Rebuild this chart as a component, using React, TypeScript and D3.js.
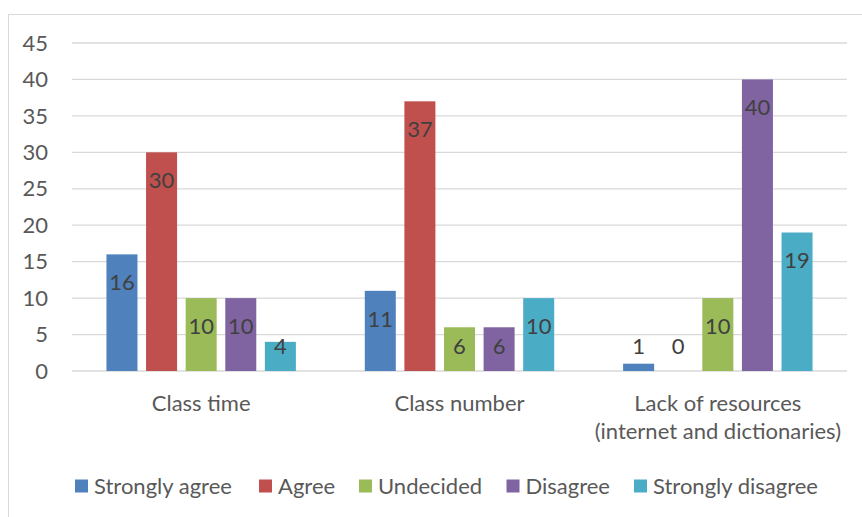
import React from "react";
import * as d3 from "d3";

const categories: string[][] = [
  ["Class time"],
  ["Class number"],
  ["Lack of resources", "(internet and dictionaries)"],
];
const seriesNames = ["Strongly agree", "Agree", "Undecided", "Disagree", "Strongly disagree"];
const seriesColors = ["#4F81BD", "#C0504D", "#9BBB59", "#8064A2", "#4BACC6"];
const stronglyAgree = [16, 11, 1];
const agree = [30, 37, 0];
const undecided = [10, 6, 10];
const disagree = [10, 6, 40];
const stronglyDisagree = [4, 10, 19];
const yTicks = [0, 5, 10, 15, 20, 25, 30, 35, 40, 45];

const seriesValues = [stronglyAgree, agree, undecided, disagree, stronglyDisagree];

const W = 862;
const H = 517;
const FONT = "Lato, 'Noto Sans', sans-serif";
const FS = 22;

export default function App() {
  const plotLeft = 72;
  const plotRight = 847;
  const y = d3.scaleLinear().domain([0, 45]).range([371, 43]);
  const catIdx = categories.map((_, i) => String(i));
  const x0 = d3.scaleBand<string>().domain(catIdx).range([plotLeft, plotRight]).paddingInner(0).paddingOuter(0);
  const x1 = d3
    .scaleBand<string>()
    .domain(seriesNames)
    .range([0, x0.bandwidth()])
    .paddingInner(0.217)
    .paddingOuter(0.87);

  const legendX = [75, 259, 359, 506.5, 634];

  return (
    <svg width={W} height={H} style={{ position: "absolute", left: 0, top: 0 }} fontFamily={FONT}>
      <rect x={0} y={0} width={W} height={H} fill="#fff" />
      <rect x={8.5} y={14.5} width={W + 20} height={H + 20} fill="none" stroke="#d9d9d9" strokeWidth={1} />
      {yTicks.map((t) => (
        <g key={t}>
          <line x1={plotLeft} x2={plotRight} y1={y(t)} y2={y(t)} stroke="#d9d9d9" strokeWidth={1.3} />
          <text x={48} y={y(t)} dy="0.35em" textAnchor="end" fontSize={FS} fill="#595959">
            {t}
          </text>
        </g>
      ))}
      {categories.map((cat, ci) => (
        <g key={ci} transform={`translate(${x0(String(ci))},0)`}>
          {seriesNames.map((s, si) => {
            const v = seriesValues[si][ci];
            const bx = x1(s)!;
            const top = y(v);
            const labelY = Math.min(top + 28, y(0) - 25);
            return (
              <g key={s}>
                {v > 0 && (
                  <rect x={bx} y={top} width={x1.bandwidth()} height={y(0) - top} fill={seriesColors[si]} />
                )}
                <text
                  x={bx + x1.bandwidth() / 2}
                  y={labelY}
                  dy="0.35em"
                  textAnchor="middle"
                  fontSize={FS}
                  fill="#404040"
                >
                  {v}
                </text>
              </g>
            );
          })}
          {cat.map((line, li) => (
            <text
              key={li}
              x={x0.bandwidth() / 2}
              y={403 + li * 28.5}
              dy="0.35em"
              textAnchor="middle"
              fontSize={FS}
              fill="#595959"
            >
              {line}
            </text>
          ))}
        </g>
      ))}
      {seriesNames.map((s, si) => (
        <g key={s} transform={`translate(${legendX[si]},486)`}>
          <rect x={0} y={-6.5} width={13} height={13} fill={seriesColors[si]} />
          <text x={19} y={0} dy="0.35em" fontSize={FS} fill="#595959">
            {s}
          </text>
        </g>
      ))}
    </svg>
  );
}
